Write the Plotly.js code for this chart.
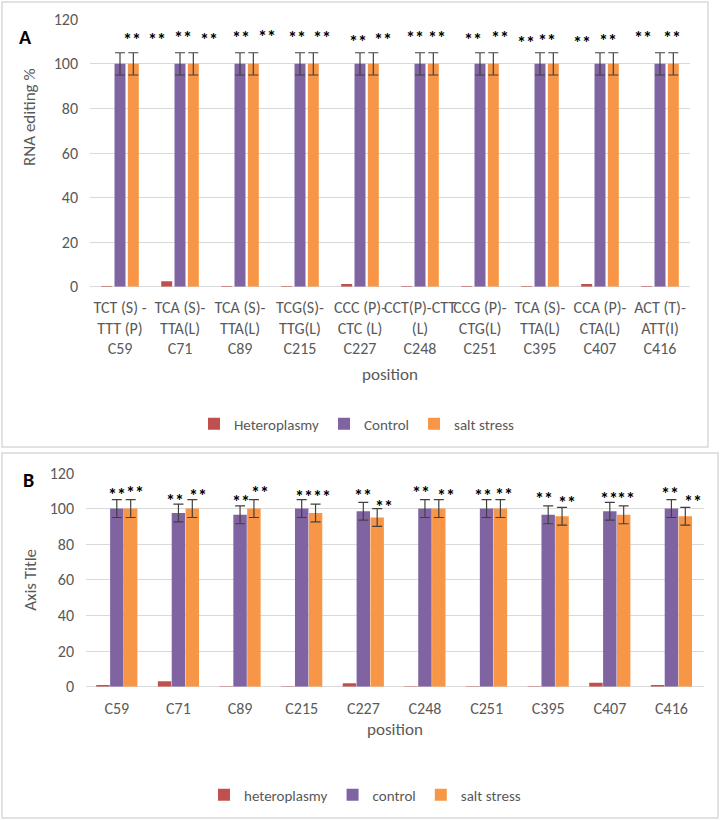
<!DOCTYPE html>
<html>
<head>
<meta charset="utf-8">
<script src="https://cdn.plot.ly/plotly-3.0.1.min.js"></script>
<style>
html,body{margin:0;padding:0;background:#fff;}
#chart{width:723px;height:820px;}
</style>
</head>
<body>
<div id="chart"></div>
<script>
// ---------- Panel A data ----------
const catsA = ['TCT (S) -<br>TTT (P)<br>C59', 'TCA (S)-<br>TTA(L)<br>C71', 'TCA (S)-<br>TTA(L)<br>C89',
  'TCG(S)-<br>TTG(L)<br>C215', 'CCC (P)-<br>CTC (L)<br>C227', 'CCT(P)-CTT<br>(L)<br>C248',
  'CCG (P)-<br>CTG(L)<br>C251', 'TCA (S)-<br>TTA(L)<br>C395', 'CCA (P)-<br>CTA(L)<br>C407', 'ACT (T)-<br>ATT(I)<br>C416'];
const heteroA = [0.3, 2.4, 0.3, 0.3, 1.2, 0.3, 0.3, 0.3, 1.2, 0.3];
const controlA = [100, 100, 100, 100, 100, 100, 100, 100, 100, 100];
const saltA = [100, 100, 100, 100, 100, 100, 100, 100, 100, 100];
const errControlA = [5, 5, 5, 5, 5, 5, 5, 5, 5, 5];
const errSaltA = [5, 5, 5, 5, 5, 5, 5, 5, 5, 5];
const starsAx = [0.2, 0.62, 1.05, 1.48, 2.02, 2.45, 2.95, 3.37, 3.97, 4.38, 4.92, 5.28, 5.88, 6.33, 6.77, 7.12, 7.7, 8.13, 8.72, 9.2];
const starsAy = [112.4, 112.4, 113.3, 112.4, 113.3, 113.8, 113.3, 113.3, 111.5, 112.4, 113.3, 113.3, 112.4, 113.3, 111.1, 112.0, 111.1, 112.0, 113.3, 113.3];

// ---------- Panel B data ----------
const catsB = ['C59', 'C71', 'C89', 'C215', 'C227', 'C248', 'C251', 'C395', 'C407', 'C416'];
const heteroB = [1, 3, 0.3, 0.3, 2, 0.3, 0.3, 0.3, 2.2, 1];
const controlB = [100, 97.5, 96.5, 100, 98.5, 100, 100, 96.5, 98.5, 100];
const saltB = [100, 100, 100, 97.5, 95, 100, 100, 95.7, 96.5, 95.7];
const errControlB = [5, 5, 5, 5, 5, 5, 5, 5, 5, 5];
const errSaltB = [5, 5, 5, 5, 5, 5, 5, 5, 5, 5];
const starsBx = [0.01, 0.29, 0.94, 1.31, 2.02, 2.32, 3.03, 3.33, 4.0, 4.34, 4.94, 5.34, 5.94, 6.29, 6.94, 7.30, 7.99, 8.27, 8.98, 9.35];
const starsBy = [110, 111, 106.7, 109.6, 106, 111, 109, 109, 109.6, 103.2, 111, 109.6, 109.6, 110, 107.7, 105.3, 107.7, 107.7, 110.5, 106];

const tickVals = [0, 20, 40, 60, 80, 100, 120];

// ---------- styles ----------
const FONT = "Carlito, Lato, 'Liberation Sans', sans-serif";
const GRAY = '#595959';
const GRID = '#D9D9D9';
const RED = '#C0504D', PURPLE = '#8064A2', ORANGE = '#F79646';
const errStyle = {type: 'data', color: '#404040', thickness: 1.2, width: 5, visible: true};

const W = 723, H = 820;
const px = v => v / W, py = v => 1 - v / H;

const wA = 0.183, sA = 0.222;
const wB = 0.218, sB = 0.225;

const traces = [
  {type: 'bar', x: catsA, y: heteroA, name: 'Heteroplasmy', marker: {color: RED}, width: wA, offset: -sA - wA / 2, xaxis: 'x', yaxis: 'y', legend: 'legend'},
  {type: 'bar', x: catsA, y: controlA, name: 'Control', marker: {color: PURPLE}, width: wA, offset: -wA / 2, xaxis: 'x', yaxis: 'y', legend: 'legend',
    error_y: Object.assign({array: errControlA}, errStyle)},
  {type: 'bar', x: catsA, y: saltA, name: 'salt stress', marker: {color: ORANGE}, width: wA, offset: sA - wA / 2, xaxis: 'x', yaxis: 'y', legend: 'legend',
    error_y: Object.assign({array: errSaltA}, errStyle)},
  {type: 'bar', x: catsB, y: heteroB, name: 'heteroplasmy', marker: {color: RED}, width: wB, offset: -sB - wB / 2, xaxis: 'x2', yaxis: 'y2', legend: 'legend2'},
  {type: 'bar', x: catsB, y: controlB, name: 'control', marker: {color: PURPLE}, width: wB, offset: -wB / 2, xaxis: 'x2', yaxis: 'y2', legend: 'legend2',
    error_y: Object.assign({array: errControlB}, errStyle)},
  {type: 'bar', x: catsB, y: saltB, name: 'salt stress', marker: {color: ORANGE}, width: wB, offset: sB - wB / 2, xaxis: 'x2', yaxis: 'y2', legend: 'legend2',
    error_y: Object.assign({array: errSaltB}, errStyle)}
];

const annotations = [];
const starFont = {family: FONT, size: 18, color: '#000'};
starsAx.forEach((x, i) => annotations.push({xref: 'x', yref: 'y', x: x, y: starsAy[i], text: '<b>**</b>', showarrow: false,
  font: starFont, xanchor: 'center', yanchor: 'middle', yshift: -4}));
starsBx.forEach((x, i) => annotations.push({xref: 'x2', yref: 'y2', x: x, y: starsBy[i], text: '<b>**</b>', showarrow: false,
  font: starFont, xanchor: 'center', yanchor: 'middle', yshift: -4}));
annotations.push({xref: 'paper', yref: 'paper', x: px(26), y: py(37), text: '<b>A</b>', showarrow: false,
  xanchor: 'center', yanchor: 'middle', font: {family: FONT, size: 20, color: '#000'}});
annotations.push({xref: 'paper', yref: 'paper', x: px(28), y: py(480), text: '<b>B</b>', showarrow: false,
  xanchor: 'center', yanchor: 'middle', font: {family: FONT, size: 20, color: '#000'}});
annotations.push({xref: 'paper', yref: 'paper', x: px(29), y: py(117), text: 'RNA editing %', textangle: -90, showarrow: false,
  xanchor: 'center', yanchor: 'middle', font: {family: FONT, size: 17, color: GRAY}});

const axisY = {
  range: [0, 120], tickvals: tickVals, showgrid: true, gridcolor: GRID, gridwidth: 1,
  zeroline: true, zerolinecolor: GRID, zerolinewidth: 1, showline: false, ticks: '',
  tickfont: {family: FONT, size: 16, color: GRAY}, ticklabelstandoff: 11
};
const axisX = {
  type: 'category', showgrid: false, zeroline: false, showline: false, ticks: '',
  tickfont: {family: FONT, size: 16, color: GRAY}, tickangle: 0
};

const layout = {
  width: W, height: H,
  margin: {l: 0, r: 0, t: 0, b: 0},
  paper_bgcolor: '#fff', plot_bgcolor: '#fff',
  barmode: 'overlay',
  font: {family: FONT, color: GRAY},
  xaxis: Object.assign({}, axisX, {domain: [px(90), px(690)], anchor: 'y', ticklabelstandoff: 9,
    title: {text: 'position', font: {family: FONT, size: 17, color: GRAY}, standoff: 10}}),
  yaxis: Object.assign({}, axisY, {domain: [py(286.7), py(19.3)], anchor: 'x'}),
  xaxis2: Object.assign({}, axisX, {domain: [px(86), px(704)], anchor: 'y2', ticklabelstandoff: 10,
    title: {text: 'position', font: {family: FONT, size: 17, color: GRAY}, standoff: 6}}),
  yaxis2: Object.assign({}, axisY, {domain: [py(686.7), py(473)], anchor: 'x2',
    title: {text: 'Axis Title', font: {family: FONT, size: 17, color: GRAY}, standoff: 8}}),
  legend: {orientation: 'h', x: px(357), y: py(424), xanchor: 'center', yanchor: 'middle',
    font: {family: FONT, size: 15, color: GRAY}, itemwidth: 30, bgcolor: 'rgba(0,0,0,0)'},
  legend2: {orientation: 'h', x: px(365), y: py(795), xanchor: 'center', yanchor: 'middle',
    font: {family: FONT, size: 15, color: GRAY}, itemwidth: 30, bgcolor: 'rgba(0,0,0,0)'},
  shapes: [
    {type: 'rect', xref: 'paper', yref: 'paper', x0: px(2), x1: px(708), y0: py(447), y1: py(2),
      line: {color: GRID, width: 1.5}, fillcolor: 'rgba(0,0,0,0)'},
    {type: 'rect', xref: 'paper', yref: 'paper', x0: px(2), x1: px(718), y0: py(818), y1: py(453),
      line: {color: GRID, width: 1.5}, fillcolor: 'rgba(0,0,0,0)'}
  ],
  annotations: annotations,
  showlegend: true
};

Plotly.newPlot('chart', traces, layout, {displayModeBar: false, staticPlot: true});
</script>
</body>
</html>
